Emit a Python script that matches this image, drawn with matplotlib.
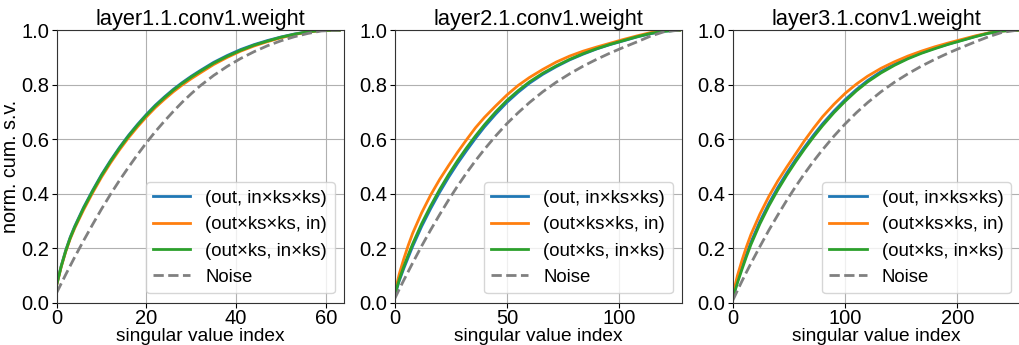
import matplotlib
matplotlib.use("Agg")
import matplotlib.pyplot as plt

plt.rcParams['font.family'] = ['Liberation Sans', 'DejaVu Sans']

titles = ["layer1.1.conv1.weight", "layer2.1.conv1.weight", "layer3.1.conv1.weight"]
labels = ["(out, in×ks×ks)", "(out×ks×ks, in)", "(out×ks, in×ks)", "Noise"]
xmax = [64, 128, 256]
xticks = [[0, 20, 40, 60], [0, 50, 100], [0, 100, 200]]

# layer1
x1 = [0, 1, 2, 3, 4, 6, 8, 10, 12, 14, 16, 18, 20, 22, 24, 26, 28, 30, 32, 35, 38, 41, 44, 47, 50, 53, 56, 59, 63]
blue1 = [0.067, 0.135, 0.192, 0.240, 0.280, 0.350, 0.412, 0.470, 0.522, 0.570, 0.614, 0.654, 0.691, 0.725,
         0.755, 0.783, 0.808, 0.831, 0.852, 0.882, 0.907, 0.929, 0.947, 0.962, 0.975, 0.986, 0.994, 0.999, 1.0]
orange1 = [0.065, 0.131, 0.187, 0.234, 0.273, 0.341, 0.403, 0.461, 0.513, 0.561, 0.605, 0.645, 0.682, 0.716,
           0.746, 0.774, 0.799, 0.822, 0.843, 0.874, 0.900, 0.923, 0.942, 0.958, 0.972, 0.984, 0.993, 0.999, 1.0]
green1 = [0.066, 0.133, 0.189, 0.237, 0.277, 0.347, 0.409, 0.467, 0.519, 0.567, 0.611, 0.651, 0.688, 0.722,
          0.752, 0.780, 0.805, 0.828, 0.849, 0.879, 0.904, 0.926, 0.945, 0.960, 0.974, 0.985, 0.994, 0.999, 1.0]
noise1 = [0.037, 0.070, 0.103, 0.135, 0.167, 0.228, 0.287, 0.344, 0.398, 0.449, 0.497, 0.543, 0.587, 0.628,
          0.666, 0.702, 0.736, 0.767, 0.796, 0.834, 0.867, 0.896, 0.921, 0.943, 0.961, 0.976, 0.988, 0.997, 1.0]

# layer2
x2 = [0, 2, 4, 6, 8, 12, 16, 20, 24, 28, 32, 36, 40, 45, 50, 55, 60, 66, 72, 78, 84, 90, 96, 102, 108, 114, 120, 127]
blue2 = [0.025, 0.080, 0.125, 0.166, 0.207, 0.280, 0.345, 0.405, 0.460, 0.511, 0.558, 0.603, 0.645, 0.692,
         0.735, 0.772, 0.805, 0.838, 0.866, 0.891, 0.912, 0.931, 0.947, 0.961, 0.975, 0.987, 0.996, 1.0]
orange2 = [0.035, 0.105, 0.160, 0.210, 0.255, 0.330, 0.395, 0.452, 0.503, 0.552, 0.598, 0.642, 0.680, 0.722,
           0.762, 0.797, 0.826, 0.856, 0.883, 0.905, 0.923, 0.938, 0.952, 0.966, 0.979, 0.991, 0.998, 1.0]
green2 = [0.028, 0.085, 0.132, 0.175, 0.216, 0.290, 0.355, 0.415, 0.470, 0.521, 0.568, 0.612, 0.653, 0.700,
          0.742, 0.778, 0.810, 0.842, 0.869, 0.893, 0.914, 0.932, 0.948, 0.962, 0.976, 0.988, 0.996, 1.0]
noise2 = [0.015, 0.049, 0.082, 0.114, 0.146, 0.208, 0.267, 0.323, 0.377, 0.428, 0.476, 0.521, 0.563, 0.612,
          0.657, 0.697, 0.734, 0.774, 0.809, 0.840, 0.868, 0.893, 0.916, 0.937, 0.957, 0.978, 0.994, 1.0]

# layer3
x3 = [0, 4, 8, 12, 16, 24, 32, 40, 48, 56, 64, 72, 80, 90, 100, 110, 120, 132, 144, 156, 168, 180, 192, 204,
      216, 228, 240, 254]
blue3 = [0.020, 0.080, 0.130, 0.178, 0.222, 0.298, 0.364, 0.423, 0.476, 0.526, 0.572, 0.616, 0.657, 0.703,
         0.745, 0.782, 0.815, 0.848, 0.875, 0.898, 0.917, 0.934, 0.949, 0.963, 0.977, 0.989, 0.997, 1.0]
orange3 = [0.030, 0.100, 0.155, 0.205, 0.250, 0.325, 0.390, 0.447, 0.498, 0.547, 0.596, 0.641, 0.683, 0.728,
           0.768, 0.802, 0.831, 0.860, 0.884, 0.905, 0.923, 0.939, 0.953, 0.966, 0.979, 0.990, 0.997, 1.0]
green3 = [0.018, 0.073, 0.122, 0.169, 0.213, 0.289, 0.355, 0.414, 0.468, 0.518, 0.565, 0.609, 0.650, 0.697,
          0.739, 0.777, 0.810, 0.843, 0.871, 0.895, 0.915, 0.932, 0.948, 0.962, 0.976, 0.989, 0.997, 1.0]
noise3 = [0.010, 0.045, 0.079, 0.112, 0.144, 0.206, 0.266, 0.322, 0.376, 0.427, 0.475, 0.520, 0.562, 0.611,
          0.656, 0.697, 0.734, 0.774, 0.809, 0.840, 0.868, 0.893, 0.916, 0.937, 0.957, 0.976, 0.992, 1.0]

data = [
    (x1, blue1, orange1, green1, noise1),
    (x2, blue2, orange2, green2, noise2),
    (x3, blue3, orange3, green3, noise3),
]

fig = plt.figure(figsize=(10.2, 3.45), dpi=100)
lefts = [0.0556, 0.387, 0.7186]
for i, (x, b, o, g, n) in enumerate(data):
    ax = fig.add_axes([lefts[i], 0.1226, 0.2815, 0.790])
    ax.plot(x, b, color='#1f77b4', lw=2, label=labels[0])
    ax.plot(x, o, color='#ff7f0e', lw=2, label=labels[1])
    ax.plot(x, g, color='#2ca02c', lw=2, label=labels[2])
    ax.plot(x, n, color='gray', lw=2, ls='--', label=labels[3])
    ax.set_xlim(0, xmax[i])
    ax.set_ylim(0, 1)
    ax.set_xticks(xticks[i])
    ax.set_yticks([0, 0.2, 0.4, 0.6, 0.8, 1.0])
    ax.grid(True)
    ax.tick_params(labelsize=14.5, pad=2)
    ax.tick_params(axis='x', pad=1)
    ax.set_title(titles[i], fontsize=15.7, pad=3)
    ax.set_xlabel("singular value index", fontsize=13.8, labelpad=0)
    if i == 0:
        ax.set_ylabel("norm. cum. s.v.", fontsize=14.2, labelpad=1)
    ax.legend(loc='lower right', fontsize=13.4)
    for s in ax.spines.values():
        s.set_color('#333333')

fig.savefig("out.png", dpi=100)
